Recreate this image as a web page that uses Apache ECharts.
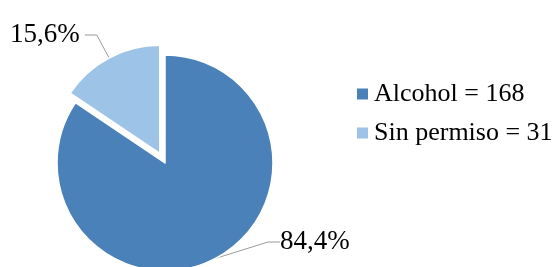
<!DOCTYPE html>
<html>
<head>
<meta charset="utf-8">
<script src="https://cdn.jsdelivr.net/npm/echarts@6/dist/echarts.min.js"></script>
<style>
  html, body { margin: 0; padding: 0; background: #fff; }
  #chart { width: 555px; height: 267px; }
</style>
</head>
<body>
<div id="chart"></div>
<script>
// datos del gráfico
const categories = ["Alcohol", "Sin permiso"];
const values = [168, 31];
const colors = ["#4A81B8", "#9DC3E6"];

const myChart = echarts.init(document.getElementById("chart"));

const fontFamily = "'Liberation Serif', 'Times New Roman', serif";

const options = {
  animation: false,
  legend: {
    show: true,
    orient: "vertical",
    left: 350,
    top: 76,
    icon: "rect",
    itemWidth: 13,
    itemHeight: 13,
    itemGap: 13,
    selectedMode: false,
    data: categories,
    formatter: (name) => name + " = " + values[categories.indexOf(name)],
    textStyle: {
      fontFamily: fontFamily,
      fontSize: 26,
      lineHeight: 26,
      color: "#000",
    },
  },
  series: [
    {
      type: "pie",
      center: [165, 163],
      radius: 108,
      startAngle: 90,
      clockwise: true,
      selectedMode: "single",
      selectedOffset: 11,
      emphasis: { disabled: true },
      itemStyle: {
        borderColor: "#fff",
        borderWidth: 1.5,
      },
      label: {
        show: true,
        fontFamily: fontFamily,
        fontSize: 27,
        color: "#000",
        overflow: "none",
        formatter: (p) => p.percent.toFixed(1).replace(".", ",") + "%",
      },
      labelLine: {
        show: true,
        length: 26,
        length2: 12,
        lineStyle: { color: "#9a9a9a", width: 1 },
      },
      // la etiqueta grande va a la derecha, abajo
      labelLayout: (params) =>
        params.dataIndex === 0
          ? { x: 280, y: 242, align: "left", verticalAlign: "middle" }
          : {},
      data: categories.map((name, i) => ({
        name: name,
        value: values[i],
        selected: i === 1,
        itemStyle: { color: colors[i] },
      })),
    },
  ],
};

myChart.setOption(options);
</script>
</body>
</html>
